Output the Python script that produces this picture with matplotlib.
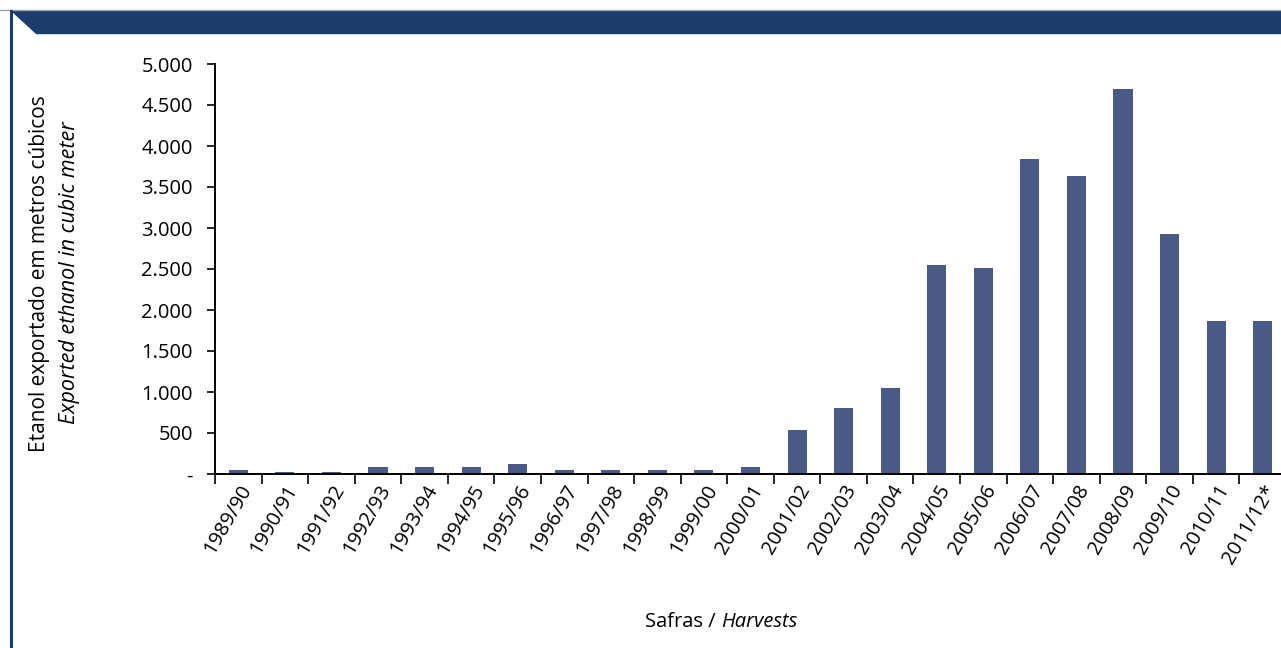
import matplotlib
matplotlib.use("Agg")
import matplotlib.pyplot as plt
from matplotlib.patches import Polygon
from matplotlib.lines import Line2D
import numpy as np

plt.rcParams['font.family'] = ['Open Sans', 'DejaVu Sans']

safras = ['1989/90', '1990/91', '1991/92', '1992/93', '1993/94', '1994/95', '1995/96',
          '1996/97', '1997/98', '1998/99', '1999/00', '2000/01', '2001/02', '2002/03',
          '2003/04', '2004/05', '2005/06', '2006/07', '2007/08', '2008/09', '2009/10',
          '2010/11', '2011/12*']
etanol = [50, 20, 20, 85, 85, 85, 125, 50, 50, 50, 50, 85, 535, 805, 1050, 2550,
          2515, 3840, 3635, 4695, 2925, 1865, 1865]
yticks = [0, 500, 1000, 1500, 2000, 2500, 3000, 3500, 4000, 4500, 5000]
ylabels = ['-', '500', '1.000', '1.500', '2.000', '2.500', '3.000', '3.500',
           '4.000', '4.500', '5.000']

navy = '#1b3d6e'
bar_color = '#4a5a87'
fs = 14.5

W, H = 1281, 648
fig = plt.figure(figsize=(W / 100, H / 100), dpi=100)

# header band with notch and left rule
fig.add_artist(Line2D([0, 1], [1 - 9.5 / H, 1 - 9.5 / H], color='#9aa3b0', lw=1))
band = Polygon([(12 / W, 1 - 11 / H), (1, 1 - 11 / H), (1, 1 - 33 / H), (36 / W, 1 - 33 / H)],
               closed=True, color=navy, transform=fig.transFigure)
fig.add_artist(band)
fig.add_artist(Line2D([11 / W, 11 / W], [0, 1 - 11 / H], color=navy, lw=2.2))

ax = fig.add_axes([215 / W, 1 - 474 / H, (1286 - 215) / W, (474 - 64) / H])
x = np.arange(len(safras))
ax.bar(x + 0.5, etanol, width=0.41, color=bar_color)
ax.set_xlim(0, len(safras))
ax.set_ylim(0, 5000)

ax.set_yticks(yticks)
ax.set_yticklabels(ylabels, fontsize=fs)
ax.set_xticks(x)
ax.set_xticklabels([])
ax.set_xticks(x + 0.5, minor=True)
ax.set_xticklabels(safras, minor=True, rotation=60, ha='right', rotation_mode='anchor',
                   fontsize=fs)
ax.tick_params(axis='x', which='major', length=7, width=1.2, direction='out')
ax.tick_params(axis='x', which='minor', length=0, pad=5)
ax.tick_params(axis='y', length=6, width=1.2, direction='out', pad=10)

for s in ['top', 'right']:
    ax.spines[s].set_visible(False)
for s in ['left', 'bottom']:
    ax.spines[s].set_linewidth(1.4)

fig.text(40 / W, 1 - 274 / H, 'Etanol exportado em metros cúbicos', rotation=90,
         ha='center', va='center', fontsize=15)
fig.text(70 / W, 1 - 273 / H, 'Exported ethanol in cubic meter', rotation=90,
         ha='center', va='center', fontsize=15.5, style='italic')

fig.text(721 / W, 1 - 622 / H, 'Safras / ', ha='right', va='center', fontsize=fs)
fig.text(721 / W, 1 - 622 / H, 'Harvests', ha='left', va='center', fontsize=fs,
         style='italic')

fig.savefig('out.png', dpi=100)
